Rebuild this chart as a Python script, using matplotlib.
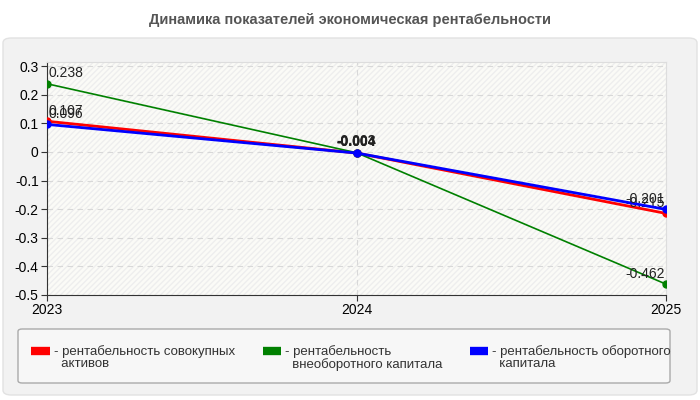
import matplotlib.pyplot as plt
from matplotlib.patches import FancyBboxPatch, Rectangle

years = ['2023', '2024', '2025']
total_assets = [0.107, -0.004, -0.215]
fixed_capital = [0.238, -0.003, -0.462]
working_capital = [0.096, -0.004, -0.201]

names = ['- рентабельность совокупных\n  активов',
         '- рентабельность\n  внеоборотного капитала',
         '- рентабельность оборотного\n  капитала']
colors = ['red', 'green', 'blue']
yticks = [0.3, 0.2, 0.1, 0, -0.1, -0.2, -0.3, -0.4, -0.5]

plt.rcParams['font.family'] = ['Liberation Sans', 'DejaVu Sans']

fig = plt.figure(figsize=(7, 4), dpi=100)
fig.patch.set_facecolor('white')

# outer panel
panel = FancyBboxPatch((3 / 700, 5 / 400), 694 / 700, 357 / 400,
                       boxstyle='round,pad=0,rounding_size=0.012',
                       transform=fig.transFigure, facecolor='#f2f2f2',
                       edgecolor='#e2e2e2', linewidth=1, zorder=-10)
fig.patches.append(panel)
# legend box
legbox = FancyBboxPatch((18 / 700, 17 / 400), 652 / 700, 54 / 400,
                        boxstyle='round,pad=0,rounding_size=0.006',
                        transform=fig.transFigure, facecolor='#f7f7f7',
                        edgecolor='#aaaaaa', linewidth=1, zorder=-5)
fig.patches.append(legbox)

fig.text(0.5, 1 - 20 / 400, 'Динамика показателей экономическая рентабельности',
         ha='center', va='center', fontsize=10.5, fontweight='bold', color='#555555')

ax = fig.add_axes([47 / 700, 105 / 400, 619 / 700, 233 / 400])
ax.set_facecolor('#fbfbf7')
ax.add_patch(Rectangle((0, 0), 1, 1, transform=ax.transAxes, facecolor='none',
                       edgecolor='#eeeeee', hatch='//////', linewidth=0, zorder=0))

x = range(len(years))
series = [total_assets, fixed_capital, working_capital]
for vals, c, n in zip(series, colors, names):
    lw = 1.2 if c == 'green' else 2
    ax.plot(x, vals, color=c, lw=lw, marker='o', markersize=5, label=n, zorder=3)
    for xi, v in zip(x, vals):
        if xi == 0:
            ax.text(xi + 0.005, v + 0.012, f'{v:g}', ha='left', va='bottom', fontsize=10, color='#222222')
        elif xi == len(years) - 1:
            ax.text(xi - 0.005, v + 0.012, f'{v:g}', ha='right', va='bottom', fontsize=10, color='#222222')
        else:
            ax.text(xi, v + 0.015, f'{v:g}', ha='center', va='bottom', fontsize=10,
                    color='#222222', fontweight='bold')

ax.set_xlim(0, 2)
ax.set_ylim(-0.5, 0.314)
ax.set_xticks(list(x))
ax.set_xticklabels(years, fontsize=10)
ax.set_yticks(yticks)
ax.set_yticklabels([f'{t:g}' for t in yticks], fontsize=10)
ax.grid(True, color='#d8d8d8', linestyle=(0, (5, 4)), linewidth=0.8)
ax.set_axisbelow(True)
for s in ['top', 'right']:
    ax.spines[s].set_color('#dddddd')
for s in ['left', 'bottom']:
    ax.spines[s].set_color('#333333')
ax.tick_params(length=4, color='#333333', pad=2)

# tall handle box so the swatch sits level with the first label line
leg = fig.legend(loc='upper left', bbox_to_anchor=(22 / 700, 1 - 330 / 400),
                 ncol=3, frameon=False, fontsize=9.5, handlelength=1.4, handleheight=4.2,
                 columnspacing=2.1, borderpad=0.2, handletextpad=0.3, labelspacing=0.2)
for t in leg.get_texts():
    t.set_color('#333333')
    t.set_linespacing(1.0)
for h in leg.legend_handles:
    h.set_linewidth(6)
    h.set_solid_capstyle('butt')
    h.set_marker('')

fig.savefig('out.png', dpi=100)
